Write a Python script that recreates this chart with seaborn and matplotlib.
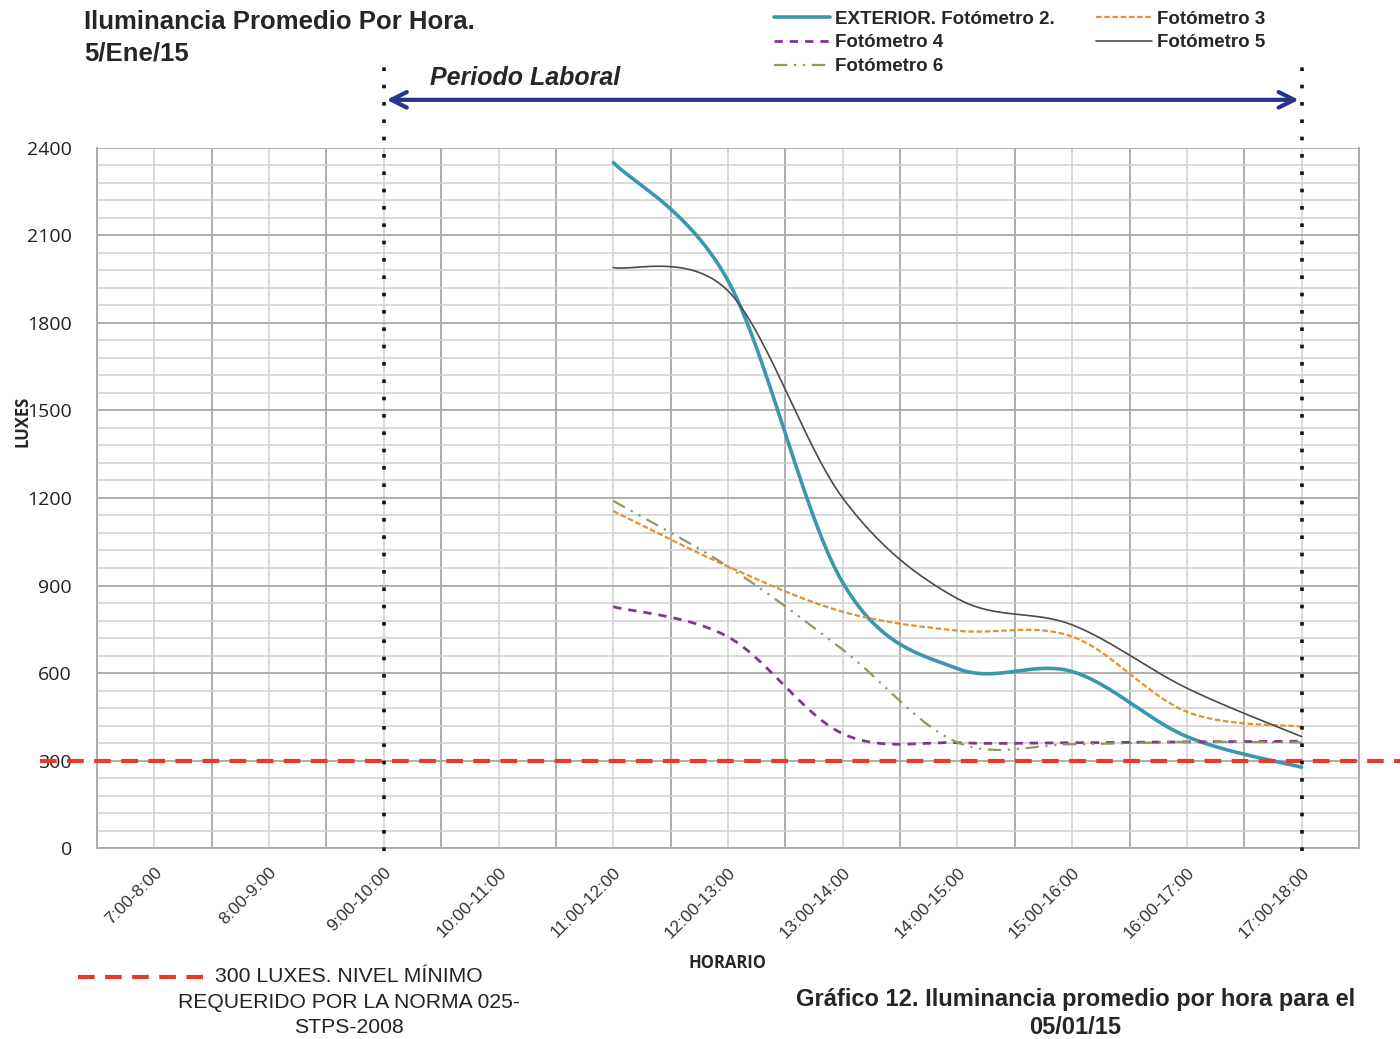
import numpy as np
import matplotlib
matplotlib.use("Agg")
import matplotlib.pyplot as plt
import seaborn as sns

# categories (hour ranges) and measured averages (lux)
horario = ['7:00-8:00', '8:00-9:00', '9:00-10:00', '10:00-11:00', '11:00-12:00',
           '12:00-13:00', '13:00-14:00', '14:00-15:00', '15:00-16:00',
           '16:00-17:00', '17:00-18:00']
medidos = horario[4:]  # readings only from 11:00 on

exterior_f2 = [2350, 1945, 910, 615, 605, 382, 277]
fotometro_3 = [1155, 965, 810, 745, 725, 467, 416]
fotometro_4 = [827, 724, 392, 361, 361, 364, 366]
fotometro_5 = [1990, 1910, 1200, 855, 765, 548, 382]
fotometro_6 = [1190, 965, 680, 362, 356, 364, 362]

nivel_minimo = 300
inicio_laboral = '9:00-10:00'
fin_laboral = '17:00-18:00'


def suavizar(xs, ys, n=40):
    # Excel-like smoothed line (Catmull-Rom as cubic Bezier)
    P = np.column_stack([xs, ys]).astype(float)
    out = []
    for i in range(len(P) - 1):
        p_prev = P[i - 1] if i > 0 else P[i]
        p_next = P[i + 2] if i + 2 < len(P) else P[i + 1]
        c1 = P[i] + (P[i + 1] - p_prev) / 6
        c2 = P[i + 1] - (p_next - P[i]) / 6
        t = np.linspace(0, 1, n)[:, None]
        seg = ((1 - t) ** 3 * P[i] + 3 * (1 - t) ** 2 * t * c1
               + 3 * (1 - t) * t ** 2 * c2 + t ** 3 * P[i + 1])
        out.append(seg if i == 0 else seg[1:])
    out = np.vstack(out)
    return out[:, 0], out[:, 1]


sns.set_style("white")
plt.rcParams['font.family'] = ['Liberation Sans', 'DejaVu Sans']

fig = plt.figure(figsize=(14, 10.39), dpi=100)
ax = fig.add_axes([0.0693, 0.1838, 0.9014, 0.6738])

x_idx = [horario.index(h) for h in medidos]

series = [
    (exterior_f2, 'EXTERIOR. Fotómetro 2.', '#3b97ad', 2.6, '-'),
    (fotometro_3, 'Fotómetro 3', '#e8902c', 1.6, (0, (2.5, 1.2))),
    (fotometro_4, 'Fotómetro 4', '#7b3b88', 2.0, (0, (3, 2.5))),
    (fotometro_5, 'Fotómetro 5', '#4a4a4a', 1.2, '-'),
    (fotometro_6, 'Fotómetro 6', '#8c9c58', 1.6, (0, (6, 3, 1, 3, 1, 3))),
]
handles = {}
for vals, name, col, lw, ls in series:
    sx, sy = suavizar(x_idx, vals)
    sns.lineplot(x=sx, y=sy, ax=ax, sort=False, color=col, linewidth=lw,
                 estimator=None, zorder=4)
    ln = ax.lines[-1]
    ln.set_linestyle(ls)
    handles[name] = ln

# grid
ax.set_xlim(-0.5, len(horario) - 0.5)
ax.set_ylim(0, 2400)
ax.set_yticks(np.arange(0, 2401, 300))
ax.set_yticks(np.arange(0, 2401, 60), minor=True)
ax.set_xticks(range(len(horario)))
ax.set_xticks(np.arange(-0.5, len(horario), 1.0), minor=True)
ax.grid(which='major', axis='y', color='#a8a8a8', linewidth=1.3)
ax.grid(which='minor', axis='y', color='#d0d0d0', linewidth=1.1)
ax.grid(which='minor', axis='x', color='#a8a8a8', linewidth=1.3)
ax.grid(which='major', axis='x', color='#d0d0d0', linewidth=1.1)
ax.set_axisbelow(True)
ax.spines['top'].set_visible(False)
for s in ['left', 'bottom', 'right']:
    ax.spines[s].set_color('#a8a8a8')
    ax.spines[s].set_linewidth(1.3)

ax.set_xticklabels(horario, rotation=45, ha='right', rotation_mode='anchor',
                   fontsize=12.5, color='#333333')
ax.tick_params(axis='x', which='both', length=0, pad=12)
ax.tick_params(axis='y', which='major', length=6, color='#a8a8a8', pad=12)
ax.tick_params(axis='y', which='minor', length=0)
for lab in ax.get_yticklabels():
    lab.set_fontfamily('Open Sans')
    lab.set_fontsize(14)
    lab.set_color('#222222')

ax.set_xlabel('HORARIO', fontfamily='Open Sans', fontweight='bold', fontsize=12)
ax.set_ylabel('LUXES', fontfamily='Open Sans', fontweight='bold', fontsize=12)
ax.yaxis.set_label_coords(-0.052, 0.61)
ax.xaxis.set_label_coords(0.5, -0.152)

# minimum level line (runs past the axes)
ax.plot([-1.0, 11.4], [nivel_minimo, nivel_minimo], color='#e8392b',
        linewidth=3, linestyle=(0, (4, 2.5)), clip_on=False, zorder=5)

# working period markers
xa = horario.index(inicio_laboral)
xb = horario.index(fin_laboral)
for xv in (xa, xb):
    ax.plot([xv, xv], [-10, 2710], color='#111111', linewidth=2.6,
            linestyle=(0, (1, 3.8)), dash_capstyle='butt', clip_on=False, zorder=6)
ax.annotate('', xy=(xb, 2565), xytext=(xa, 2565), annotation_clip=False,
            arrowprops=dict(arrowstyle='<->', color='#27348b', lw=3,
                            mutation_scale=28))
ax.text(xa + 0.4, 2600, 'Periodo Laboral', fontsize=18, fontweight='bold',
        fontstyle='italic', va='bottom', ha='left', clip_on=False)

# legend
order = ['EXTERIOR. Fotómetro 2.', 'Fotómetro 4', 'Fotómetro 6', 'Fotómetro 3', 'Fotómetro 5']
fig.legend([handles[k] for k in order], order, loc='upper left',
           bbox_to_anchor=(0.541, 1.006), ncol=2, frameon=False,
           prop=dict(weight='bold', size=13.5), handlelength=2.95,
           handletextpad=0.3, columnspacing=2.2, labelspacing=0.35)

fig.text(0.06, 0.99, 'Iluminancia Promedio Por Hora.\n5/Ene/15', fontsize=18.5,
         fontweight='bold', va='top', ha='left', linespacing=1.4)

# bottom-left note
fig.add_artist(plt.Line2D([0.056, 0.147], [0.06, 0.06], color='#e8392b', linewidth=3,
                          linestyle=(0, (4, 2.5))))
fig.text(0.249, 0.069, '300 LUXES. NIVEL MÍNIMO\nREQUERIDO POR LA NORMA 025-\nSTPS-2008',
         fontsize=15.2, ha='center', va='top', linespacing=1.42, color='#222222')

fig.text(0.768, 0.0245, 'Gráfico 12. Iluminancia promedio por hora para el\n05/01/15',
         fontsize=17, fontweight='bold', ha='center', va='center', linespacing=1.3)

fig.savefig('out.png', dpi=100)
